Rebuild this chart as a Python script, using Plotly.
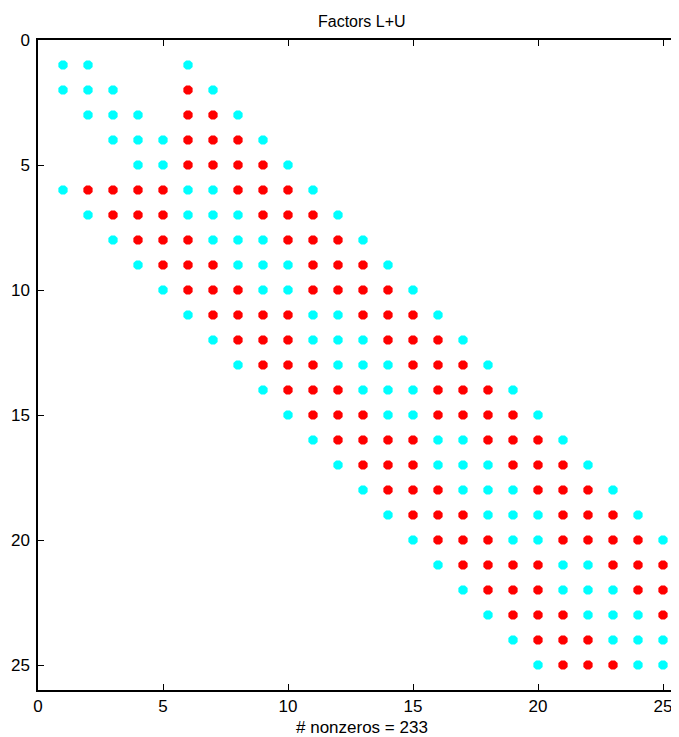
import plotly.graph_objects as go

# Sparsity pattern of L+U (rows 1..25): columns of original nonzeros (cyan) and fill-in (red)
cyan_cols = [
    [1, 2, 6],
    [1, 2, 3, 7],
    [2, 3, 4, 8],
    [3, 4, 5, 9],
    [4, 5, 10],
    [1, 6, 7, 11],
    [2, 6, 7, 8, 12],
    [3, 7, 8, 9, 13],
    [4, 8, 9, 10, 14],
    [5, 9, 10, 15],
    [6, 11, 12, 16],
    [7, 11, 12, 13, 17],
    [8, 12, 13, 14, 18],
    [9, 13, 14, 15, 19],
    [10, 14, 15, 20],
    [11, 16, 17, 21],
    [12, 16, 17, 18, 22],
    [13, 17, 18, 19, 23],
    [14, 18, 19, 20, 24],
    [15, 19, 20, 25],
    [16, 21, 22],
    [17, 21, 22, 23],
    [18, 22, 23, 24],
    [19, 23, 24, 25],
    [20, 24, 25],
]
red_cols = [
    [],
    [6],
    [6, 7],
    [6, 7, 8],
    [6, 7, 8, 9],
    [2, 3, 4, 5, 8, 9, 10],
    [3, 4, 5, 9, 10, 11],
    [4, 5, 6, 10, 11, 12],
    [5, 6, 7, 11, 12, 13],
    [6, 7, 8, 11, 12, 13, 14],
    [7, 8, 9, 10, 13, 14, 15],
    [8, 9, 10, 14, 15, 16],
    [9, 10, 11, 15, 16, 17],
    [10, 11, 12, 16, 17, 18],
    [11, 12, 13, 16, 17, 18, 19],
    [12, 13, 14, 15, 18, 19, 20],
    [13, 14, 15, 19, 20, 21],
    [14, 15, 16, 20, 21, 22],
    [15, 16, 17, 21, 22, 23],
    [16, 17, 18, 21, 22, 23, 24],
    [17, 18, 19, 20, 23, 24, 25],
    [18, 19, 20, 24, 25],
    [19, 20, 21, 25],
    [20, 21, 22],
    [21, 22, 23],
]
tick_vals = [0, 5, 10, 15, 20, 25]
title_text = "Factors L+U"

def flatten(cols_per_row):
    xs, ys = [], []
    for r, cols in enumerate(cols_per_row, start=1):
        for c in cols:
            xs.append(c)
            ys.append(r)
    return xs, ys

cx, cy = flatten(cyan_cols)
rx, ry = flatten(red_cols)
nnz = len(cx) + len(rx)

fig = go.Figure()
fig.add_trace(go.Scatter(x=cx, y=cy, mode="markers",
                         marker=dict(color="#00FFFF", size=10, symbol="octagon", line=dict(width=0)),
                         showlegend=False, hoverinfo="x+y"))
fig.add_trace(go.Scatter(x=rx, y=ry, mode="markers",
                         marker=dict(color="#FF0000", size=10, symbol="octagon", line=dict(width=0)),
                         showlegend=False, hoverinfo="x+y"))

# page has an 8px body margin; figure sized to fill the rest of the window
W, H = 671, 729
L, T, R = 30, 32, 0
plot_h = 650
B = H - T - plot_h
plot_w = W - L - R
px_per_unit = 25.0
xmax = plot_w / px_per_unit

font = dict(family="Liberation Sans, Arial, sans-serif", size=17, color="black")

fig.update_layout(
    width=W, height=H,
    margin=dict(l=L, r=R, t=T, b=B, pad=0, autoexpand=False),
    paper_bgcolor="white", plot_bgcolor="white",
    font=font,
    xaxis=dict(range=[0, xmax], tickvals=tick_vals, ticks="inside", ticklen=6,
               tickcolor="black", showline=True, linecolor="black", linewidth=1.5,
               mirror="ticks", showgrid=False, zeroline=False, automargin=False,
               ticklabelstandoff=0),
    yaxis=dict(range=[26, 0], tickvals=tick_vals, ticks="inside", ticklen=6,
               tickcolor="black", showline=True, linecolor="black", linewidth=1.5,
               mirror=False, showgrid=False, zeroline=False, automargin=False,
               ticklabelstandoff=3),
)
fig.add_annotation(text=title_text, xref="paper", yref="paper",
                   x=324 / plot_w, y=1 + 19 / plot_h,
                   showarrow=False, font=dict(family=font["family"], size=16, color="black"),
                   xanchor="center", yanchor="middle")
fig.add_annotation(text=f"# nonzeros = {nnz}", xref="paper", yref="paper",
                   x=324 / plot_w, y=-37 / plot_h,
                   showarrow=False, font=dict(family=font["family"], size=17, color="black"),
                   xanchor="center", yanchor="middle")

fig.write_html("out.html")
